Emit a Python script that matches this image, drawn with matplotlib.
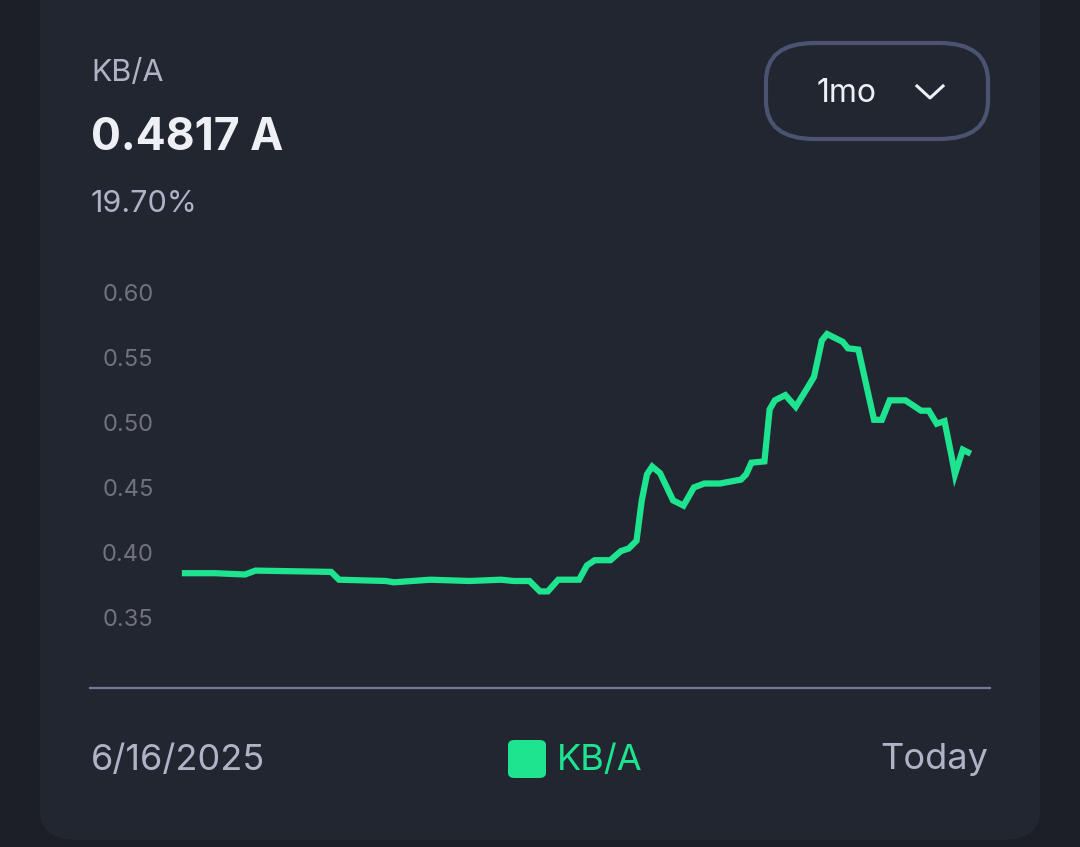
import matplotlib.pyplot as plt
from matplotlib.patches import FancyBboxPatch

# data (days since 6/16/2025, ratio)
days = [0, 1.15, 2.3, 2.7, 5.6, 5.9, 7.7, 8.0, 9.4, 10.9, 12.1, 12.6, 13.2, 13.6, 13.9,
        14.3, 15.1, 15.4, 15.7, 16.3, 16.7, 17.0, 17.3, 17.5, 17.7, 17.9, 18.2, 18.7,
        19.1, 19.5, 19.9, 20.5, 21.3, 21.5, 21.7, 22.2, 22.4, 22.6, 23.0, 23.4, 23.8,
        24.1, 24.4, 24.6, 25.2, 25.4, 25.8, 26.4, 26.7, 27.0, 27.6, 27.9, 28.2, 28.5,
        28.8, 29.1, 29.4, 29.5, 29.8, 30.0]
ratio = [0.386, 0.386, 0.385, 0.388, 0.387, 0.381, 0.380, 0.379, 0.381, 0.380, 0.381,
         0.380, 0.380, 0.372, 0.372, 0.381, 0.381, 0.392, 0.396, 0.396, 0.403, 0.405,
         0.411, 0.442, 0.462, 0.468, 0.463, 0.442, 0.438, 0.452, 0.455, 0.455, 0.458,
         0.462, 0.471, 0.472, 0.512, 0.519, 0.523, 0.514, 0.527, 0.537, 0.565, 0.570,
         0.564, 0.559, 0.558, 0.504, 0.504, 0.519, 0.519, 0.515, 0.511, 0.511, 0.501,
         0.503, 0.473, 0.462, 0.481, 0.479]
yticks = [0.35, 0.40, 0.45, 0.50, 0.55, 0.60]

W, H = 1080, 847
bg = '#1c1f27'
card = '#222631'
green = '#1ee38f'
fig = plt.figure(figsize=(W / 100, H / 100), dpi=100, facecolor=bg)
fig.patches.append(FancyBboxPatch((40 / W, -0.05), 1000 / W, (840 / H) + 0.05 + 0.05,
                                  boxstyle='round,pad=0,rounding_size=0.035',
                                  transform=fig.transFigure, facecolor=card,
                                  edgecolor='none', zorder=-5))
fig.patches[0].set_y(1 - 840 / H)
fig.patches[0].set_height(840 / H + 0.06)

def fy(py):
    return 1 - py / H

# axes: x 185..968 px, y from 688 (bottom) to 295 (0.60)
ax = fig.add_axes([185 / W, fy(688), (968 - 185) / W, (688 - 295) / H])
ax.set_zorder(5)
ax.set_facecolor('none')
ax.plot(days, ratio, color=green, lw=4.5, solid_joinstyle='miter', clip_on=False)
ax.set_xlim(0, 30)
ax.set_ylim(0.35 - 68 / 1300, 0.60)
ax.axis('off')

for v in yticks:
    yy = 620 - (v - 0.35) * 1300
    fig.text(128 / W, fy(yy), f'{v:.2f}', color='#70737c', fontsize=17,
             ha='center', va='center', family='Inter')

fig.add_artist(plt.Line2D([90 / W, 990 / W], [fy(688), fy(688)], color='#6f7a9e', lw=1.6))

fig.text(91 / W, fy(73), 'KB/A', color='#aeb3c6', fontsize=22, va='center', family='Inter')
fig.text(91 / W, fy(138), '0.4817 A', color='#eef0f5', fontsize=32, va='center',
         fontweight='bold', family='Inter')
fig.text(91 / W, fy(204), '19.70%', color='#aeb3c6', fontsize=22, va='center', family='Inter')

fig.patches.append(FancyBboxPatch((766 / W, fy(139)), 222 / W, 96 / H,
                                  boxstyle='round,pad=0,rounding_size=0.045',
                                  transform=fig.transFigure, facecolor='none',
                                  edgecolor='#4a5370', lw=3))
fig.text(847 / W, fy(93), '1mo', color='#eef0f5', fontsize=23, ha='center', va='center',
         family='Inter')
fig.add_artist(plt.Line2D([917 / W, 930 / W, 943 / W], [fy(86), fy(98), fy(86)],
                          color='#eef0f5', lw=2.2))

fig.text(91 / W, fy(760), '6/16/2025', color='#aeb3c6', fontsize=26, va='center', family='Inter')
fig.text(988 / W, fy(760), 'Today', color='#aeb3c6', fontsize=26, ha='right', va='center',
         family='Inter')
fig.patches.append(FancyBboxPatch((508 / W, fy(778)), 38 / W, 38 / H,
                                  boxstyle='round,pad=0,rounding_size=0.006',
                                  transform=fig.transFigure, facecolor=green, edgecolor='none'))
fig.text(557 / W, fy(760), 'KB/A', color=green, fontsize=26, va='center', family='Inter')

fig.savefig('out.png', dpi=100, facecolor=bg)
